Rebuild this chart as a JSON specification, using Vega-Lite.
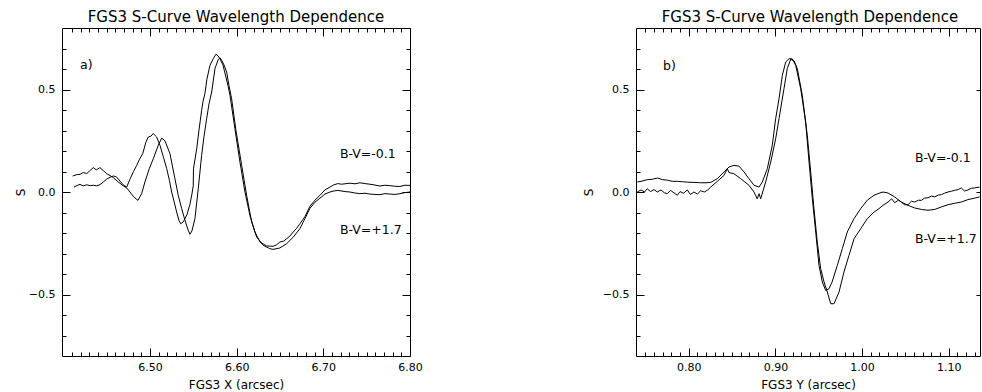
{
  "$schema": "https://vega.github.io/schema/vega-lite/v6.json",
  "padding": {"left": 14, "top": 9, "right": 0, "bottom": 0},
  "background": "white",
  "spacing": 159,
  "config": {
    "view": {"stroke": null},
    "axis": {"domainColor": "black", "tickColor": "black", "labelColor": "black", "titleColor": "black", "labelFont": "DejaVu Sans", "titleFont": "DejaVu Sans", "titleFontWeight": "normal", "labelFontSize": 11, "titleFontSize": 12, "grid": false, "tickWidth": 1, "domainWidth": 1, "labelOverlap": false, "labelFlush": false},
    "title": {"font": "DejaVu Sans", "fontSize": 15, "fontWeight": "normal", "color": "black", "anchor": "middle", "offset": 3}
  },
  "datasets": {
    "leftCurves": [
      {"x":6.4123,"s":0.024,"c":"bv1"},{"x":6.4160,"s":0.032,"c":"bv1"},{"x":6.4193,"s":0.037,"c":"bv1"},{"x":6.4230,"s":0.030,"c":"bv1"},{"x":6.4270,"s":0.035,"c":"bv1"},{"x":6.4310,"s":0.031,"c":"bv1"},{"x":6.4346,"s":0.033,"c":"bv1"},{"x":6.4385,"s":0.030,"c":"bv1"},{"x":6.4423,"s":0.036,"c":"bv1"},{"x":6.4460,"s":0.048,"c":"bv1"},{"x":6.4501,"s":0.063,"c":"bv1"},{"x":6.4540,"s":0.072,"c":"bv1"},{"x":6.4577,"s":0.078,"c":"bv1"},{"x":6.4610,"s":0.074,"c":"bv1"},{"x":6.4631,"s":0.066,"c":"bv1"},{"x":6.4660,"s":0.050,"c":"bv1"},{"x":6.4692,"s":0.035,"c":"bv1"},{"x":6.4731,"s":0.024,"c":"bv1"},{"x":6.4769,"s":0.062,"c":"bv1"},{"x":6.4810,"s":0.100,"c":"bv1"},{"x":6.4847,"s":0.130,"c":"bv1"},{"x":6.4880,"s":0.160,"c":"bv1"},{"x":6.4916,"s":0.187,"c":"bv1"},{"x":6.4954,"s":0.244,"c":"bv1"},{"x":6.4980,"s":0.268,"c":"bv1"},{"x":6.5010,"s":0.272,"c":"bv1"},{"x":6.5038,"s":0.285,"c":"bv1"},{"x":6.5060,"s":0.275,"c":"bv1"},{"x":6.5077,"s":0.268,"c":"bv1"},{"x":6.5115,"s":0.228,"c":"bv1"},{"x":6.5155,"s":0.170,"c":"bv1"},{"x":6.5193,"s":0.114,"c":"bv1"},{"x":6.5225,"s":0.055,"c":"bv1"},{"x":6.5250,"s":0.000,"c":"bv1"},{"x":6.5280,"s":-0.050,"c":"bv1"},{"x":6.5308,"s":-0.098,"c":"bv1"},{"x":6.5335,"s":-0.140,"c":"bv1"},{"x":6.5354,"s":-0.155,"c":"bv1"},{"x":6.5384,"s":-0.146,"c":"bv1"},{"x":6.5427,"s":-0.110,"c":"bv1"},{"x":6.5461,"s":-0.060,"c":"bv1"},{"x":6.5484,"s":-0.010,"c":"bv1"},{"x":6.5499,"s":0.030,"c":"bv1"},{"x":6.5502,"s":0.114,"c":"bv1"},{"x":6.5539,"s":0.211,"c":"bv1"},{"x":6.5565,"s":0.300,"c":"bv1"},{"x":6.5596,"s":0.398,"c":"bv1"},{"x":6.5611,"s":0.440,"c":"bv1"},{"x":6.5634,"s":0.480,"c":"bv1"},{"x":6.5657,"s":0.550,"c":"bv1"},{"x":6.5692,"s":0.618,"c":"bv1"},{"x":6.5730,"s":0.650,"c":"bv1"},{"x":6.5761,"s":0.672,"c":"bv1"},{"x":6.5784,"s":0.665,"c":"bv1"},{"x":6.5807,"s":0.650,"c":"bv1"},{"x":6.5842,"s":0.620,"c":"bv1"},{"x":6.5865,"s":0.580,"c":"bv1"},{"x":6.5900,"s":0.520,"c":"bv1"},{"x":6.5923,"s":0.472,"c":"bv1"},{"x":6.5980,"s":0.309,"c":"bv1"},{"x":6.6038,"s":0.146,"c":"bv1"},{"x":6.6096,"s":0.000,"c":"bv1"},{"x":6.6153,"s":-0.114,"c":"bv1"},{"x":6.6211,"s":-0.195,"c":"bv1"},{"x":6.6269,"s":-0.244,"c":"bv1"},{"x":6.6346,"s":-0.263,"c":"bv1"},{"x":6.6419,"s":-0.265,"c":"bv1"},{"x":6.6460,"s":-0.258,"c":"bv1"},{"x":6.6499,"s":-0.244,"c":"bv1"},{"x":6.6540,"s":-0.240,"c":"bv1"},{"x":6.6577,"s":-0.228,"c":"bv1"},{"x":6.6615,"s":-0.215,"c":"bv1"},{"x":6.6653,"s":-0.195,"c":"bv1"},{"x":6.6690,"s":-0.178,"c":"bv1"},{"x":6.6730,"s":-0.155,"c":"bv1"},{"x":6.6788,"s":-0.120,"c":"bv1"},{"x":6.6845,"s":-0.070,"c":"bv1"},{"x":6.6903,"s":-0.040,"c":"bv1"},{"x":6.6961,"s":-0.016,"c":"bv1"},{"x":6.7018,"s":0.010,"c":"bv1"},{"x":6.7076,"s":0.024,"c":"bv1"},{"x":6.7122,"s":0.035,"c":"bv1"},{"x":6.7168,"s":0.041,"c":"bv1"},{"x":6.7210,"s":0.038,"c":"bv1"},{"x":6.7249,"s":0.040,"c":"bv1"},{"x":6.7307,"s":0.043,"c":"bv1"},{"x":6.7365,"s":0.040,"c":"bv1"},{"x":6.7422,"s":0.045,"c":"bv1"},{"x":6.7480,"s":0.041,"c":"bv1"},{"x":6.7537,"s":0.038,"c":"bv1"},{"x":6.7595,"s":0.034,"c":"bv1"},{"x":6.7653,"s":0.029,"c":"bv1"},{"x":6.7710,"s":0.033,"c":"bv1"},{"x":6.7768,"s":0.031,"c":"bv1"},{"x":6.7826,"s":0.028,"c":"bv1"},{"x":6.7884,"s":0.027,"c":"bv1"},{"x":6.7942,"s":0.033,"c":"bv1"},{"x":6.8000,"s":0.032,"c":"bv1"},
      {"x":6.4108,"s":0.078,"c":"bv2"},{"x":6.4160,"s":0.085,"c":"bv2"},{"x":6.4193,"s":0.086,"c":"bv2"},{"x":6.4230,"s":0.095,"c":"bv2"},{"x":6.4270,"s":0.090,"c":"bv2"},{"x":6.4310,"s":0.105,"c":"bv2"},{"x":6.4346,"s":0.119,"c":"bv2"},{"x":6.4380,"s":0.108,"c":"bv2"},{"x":6.4423,"s":0.119,"c":"bv2"},{"x":6.4460,"s":0.105,"c":"bv2"},{"x":6.4501,"s":0.089,"c":"bv2"},{"x":6.4540,"s":0.080,"c":"bv2"},{"x":6.4577,"s":0.070,"c":"bv2"},{"x":6.4631,"s":0.050,"c":"bv2"},{"x":6.4692,"s":0.030,"c":"bv2"},{"x":6.4731,"s":0.020,"c":"bv2"},{"x":6.4769,"s":0.000,"c":"bv2"},{"x":6.4815,"s":-0.025,"c":"bv2"},{"x":6.4862,"s":-0.041,"c":"bv2"},{"x":6.4904,"s":-0.008,"c":"bv2"},{"x":6.4942,"s":0.049,"c":"bv2"},{"x":6.4992,"s":0.114,"c":"bv2"},{"x":6.5038,"s":0.162,"c":"bv2"},{"x":6.5096,"s":0.228,"c":"bv2"},{"x":6.5135,"s":0.263,"c":"bv2"},{"x":6.5173,"s":0.250,"c":"bv2"},{"x":6.5231,"s":0.187,"c":"bv2"},{"x":6.5288,"s":0.065,"c":"bv2"},{"x":6.5326,"s":-0.016,"c":"bv2"},{"x":6.5365,"s":-0.080,"c":"bv2"},{"x":6.5405,"s":-0.140,"c":"bv2"},{"x":6.5440,"s":-0.185,"c":"bv2"},{"x":6.5461,"s":-0.206,"c":"bv2"},{"x":6.5484,"s":-0.190,"c":"bv2"},{"x":6.5519,"s":-0.130,"c":"bv2"},{"x":6.5557,"s":0.016,"c":"bv2"},{"x":6.5596,"s":0.179,"c":"bv2"},{"x":6.5623,"s":0.270,"c":"bv2"},{"x":6.5654,"s":0.358,"c":"bv2"},{"x":6.5681,"s":0.430,"c":"bv2"},{"x":6.5712,"s":0.488,"c":"bv2"},{"x":6.5750,"s":0.602,"c":"bv2"},{"x":6.5788,"s":0.647,"c":"bv2"},{"x":6.5807,"s":0.655,"c":"bv2"},{"x":6.5827,"s":0.642,"c":"bv2"},{"x":6.5854,"s":0.620,"c":"bv2"},{"x":6.5885,"s":0.585,"c":"bv2"},{"x":6.5911,"s":0.520,"c":"bv2"},{"x":6.5942,"s":0.455,"c":"bv2"},{"x":6.5992,"s":0.300,"c":"bv2"},{"x":6.6058,"s":0.130,"c":"bv2"},{"x":6.6115,"s":-0.016,"c":"bv2"},{"x":6.6173,"s":-0.146,"c":"bv2"},{"x":6.6231,"s":-0.220,"c":"bv2"},{"x":6.6307,"s":-0.260,"c":"bv2"},{"x":6.6380,"s":-0.276,"c":"bv2"},{"x":6.6419,"s":-0.280,"c":"bv2"},{"x":6.6499,"s":-0.273,"c":"bv2"},{"x":6.6577,"s":-0.252,"c":"bv2"},{"x":6.6653,"s":-0.220,"c":"bv2"},{"x":6.6730,"s":-0.179,"c":"bv2"},{"x":6.6788,"s":-0.130,"c":"bv2"},{"x":6.6845,"s":-0.080,"c":"bv2"},{"x":6.6903,"s":-0.050,"c":"bv2"},{"x":6.6961,"s":-0.030,"c":"bv2"},{"x":6.7018,"s":-0.010,"c":"bv2"},{"x":6.7076,"s":0.000,"c":"bv2"},{"x":6.7122,"s":0.005,"c":"bv2"},{"x":6.7168,"s":0.008,"c":"bv2"},{"x":6.7249,"s":0.002,"c":"bv2"},{"x":6.7307,"s":0.000,"c":"bv2"},{"x":6.7365,"s":-0.005,"c":"bv2"},{"x":6.7422,"s":-0.008,"c":"bv2"},{"x":6.7480,"s":-0.006,"c":"bv2"},{"x":6.7537,"s":-0.010,"c":"bv2"},{"x":6.7595,"s":-0.012,"c":"bv2"},{"x":6.7653,"s":-0.013,"c":"bv2"},{"x":6.7710,"s":-0.008,"c":"bv2"},{"x":6.7768,"s":-0.010,"c":"bv2"},{"x":6.7826,"s":-0.012,"c":"bv2"},{"x":6.7884,"s":-0.008,"c":"bv2"},{"x":6.7942,"s":-0.003,"c":"bv2"},{"x":6.8000,"s":0.000,"c":"bv2"}
    ],
    "leftNotes": [
      {"x":6.4193,"s":0.62,"t":"a)"},
      {"x":6.7191,"s":0.185,"t":"B-V=-0.1"},
      {"x":6.7191,"s":-0.185,"t":"B-V=+1.7"}
    ],
    "rightCurves": [
      {"x":0.7407,"s":0.049,"c":"bv1"},{"x":0.7450,"s":0.052,"c":"bv1"},{"x":0.7522,"s":0.060,"c":"bv1"},{"x":0.7580,"s":0.062,"c":"bv1"},{"x":0.7638,"s":0.068,"c":"bv1"},{"x":0.7700,"s":0.060,"c":"bv1"},{"x":0.7753,"s":0.058,"c":"bv1"},{"x":0.7810,"s":0.052,"c":"bv1"},{"x":0.7869,"s":0.052,"c":"bv1"},{"x":0.7930,"s":0.050,"c":"bv1"},{"x":0.7984,"s":0.048,"c":"bv1"},{"x":0.8060,"s":0.047,"c":"bv1"},{"x":0.8138,"s":0.045,"c":"bv1"},{"x":0.8200,"s":0.045,"c":"bv1"},{"x":0.8254,"s":0.047,"c":"bv1"},{"x":0.8330,"s":0.065,"c":"bv1"},{"x":0.8407,"s":0.098,"c":"bv1"},{"x":0.8465,"s":0.122,"c":"bv1"},{"x":0.8522,"s":0.130,"c":"bv1"},{"x":0.8580,"s":0.126,"c":"bv1"},{"x":0.8638,"s":0.098,"c":"bv1"},{"x":0.8695,"s":0.065,"c":"bv1"},{"x":0.8753,"s":0.033,"c":"bv1"},{"x":0.8811,"s":0.024,"c":"bv1"},{"x":0.8849,"s":0.049,"c":"bv1"},{"x":0.8907,"s":0.114,"c":"bv1"},{"x":0.8964,"s":0.228,"c":"bv1"},{"x":0.9003,"s":0.358,"c":"bv1"},{"x":0.9042,"s":0.455,"c":"bv1"},{"x":0.9080,"s":0.569,"c":"bv1"},{"x":0.9119,"s":0.634,"c":"bv1"},{"x":0.9157,"s":0.650,"c":"bv1"},{"x":0.9195,"s":0.650,"c":"bv1"},{"x":0.9234,"s":0.618,"c":"bv1"},{"x":0.9292,"s":0.504,"c":"bv1"},{"x":0.9349,"s":0.341,"c":"bv1"},{"x":0.9388,"s":0.146,"c":"bv1"},{"x":0.9426,"s":-0.033,"c":"bv1"},{"x":0.9465,"s":-0.195,"c":"bv1"},{"x":0.9503,"s":-0.358,"c":"bv1"},{"x":0.9541,"s":-0.439,"c":"bv1"},{"x":0.9580,"s":-0.480,"c":"bv1"},{"x":0.9618,"s":-0.472,"c":"bv1"},{"x":0.9653,"s":-0.440,"c":"bv1"},{"x":0.9714,"s":-0.358,"c":"bv1"},{"x":0.9772,"s":-0.276,"c":"bv1"},{"x":0.9829,"s":-0.195,"c":"bv1"},{"x":0.9907,"s":-0.130,"c":"bv1"},{"x":0.9984,"s":-0.081,"c":"bv1"},{"x":1.0060,"s":-0.040,"c":"bv1"},{"x":1.0137,"s":-0.016,"c":"bv1"},{"x":1.0195,"s":-0.006,"c":"bv1"},{"x":1.0241,"s":0.000,"c":"bv1"},{"x":1.0299,"s":-0.005,"c":"bv1"},{"x":1.0376,"s":-0.024,"c":"bv1"},{"x":1.0452,"s":-0.049,"c":"bv1"},{"x":1.0529,"s":-0.065,"c":"bv1"},{"x":1.0607,"s":-0.078,"c":"bv1"},{"x":1.0683,"s":-0.085,"c":"bv1"},{"x":1.0760,"s":-0.089,"c":"bv1"},{"x":1.0837,"s":-0.085,"c":"bv1"},{"x":1.0914,"s":-0.073,"c":"bv1"},{"x":1.0991,"s":-0.062,"c":"bv1"},{"x":1.1068,"s":-0.055,"c":"bv1"},{"x":1.1144,"s":-0.049,"c":"bv1"},{"x":1.1221,"s":-0.037,"c":"bv1"},{"x":1.1299,"s":-0.030,"c":"bv1"},{"x":1.1356,"s":-0.024,"c":"bv1"},
      {"x":0.7407,"s":0.000,"c":"bv2"},{"x":0.7450,"s":0.010,"c":"bv2"},{"x":0.7490,"s":0.000,"c":"bv2"},{"x":0.7522,"s":0.016,"c":"bv2"},{"x":0.7560,"s":0.002,"c":"bv2"},{"x":0.7600,"s":0.012,"c":"bv2"},{"x":0.7638,"s":0.000,"c":"bv2"},{"x":0.7680,"s":0.010,"c":"bv2"},{"x":0.7720,"s":-0.004,"c":"bv2"},{"x":0.7753,"s":-0.008,"c":"bv2"},{"x":0.7790,"s":0.008,"c":"bv2"},{"x":0.7830,"s":-0.004,"c":"bv2"},{"x":0.7869,"s":-0.016,"c":"bv2"},{"x":0.7900,"s":0.002,"c":"bv2"},{"x":0.7940,"s":-0.006,"c":"bv2"},{"x":0.7984,"s":0.010,"c":"bv2"},{"x":0.8020,"s":-0.012,"c":"bv2"},{"x":0.8060,"s":0.000,"c":"bv2"},{"x":0.8100,"s":-0.010,"c":"bv2"},{"x":0.8138,"s":0.006,"c":"bv2"},{"x":0.8180,"s":0.000,"c":"bv2"},{"x":0.8220,"s":0.010,"c":"bv2"},{"x":0.8254,"s":0.024,"c":"bv2"},{"x":0.8330,"s":0.052,"c":"bv2"},{"x":0.8407,"s":0.081,"c":"bv2"},{"x":0.8445,"s":0.114,"c":"bv2"},{"x":0.8465,"s":0.095,"c":"bv2"},{"x":0.8522,"s":0.089,"c":"bv2"},{"x":0.8600,"s":0.065,"c":"bv2"},{"x":0.8695,"s":0.033,"c":"bv2"},{"x":0.8753,"s":0.000,"c":"bv2"},{"x":0.8790,"s":-0.033,"c":"bv2"},{"x":0.8811,"s":-0.008,"c":"bv2"},{"x":0.8830,"s":-0.033,"c":"bv2"},{"x":0.8888,"s":0.049,"c":"bv2"},{"x":0.8946,"s":0.146,"c":"bv2"},{"x":0.9003,"s":0.260,"c":"bv2"},{"x":0.9042,"s":0.358,"c":"bv2"},{"x":0.9099,"s":0.504,"c":"bv2"},{"x":0.9137,"s":0.602,"c":"bv2"},{"x":0.9176,"s":0.647,"c":"bv2"},{"x":0.9215,"s":0.640,"c":"bv2"},{"x":0.9253,"s":0.602,"c":"bv2"},{"x":0.9310,"s":0.472,"c":"bv2"},{"x":0.9368,"s":0.276,"c":"bv2"},{"x":0.9407,"s":0.098,"c":"bv2"},{"x":0.9445,"s":-0.081,"c":"bv2"},{"x":0.9483,"s":-0.244,"c":"bv2"},{"x":0.9522,"s":-0.374,"c":"bv2"},{"x":0.9561,"s":-0.439,"c":"bv2"},{"x":0.9599,"s":-0.488,"c":"bv2"},{"x":0.9638,"s":-0.545,"c":"bv2"},{"x":0.9676,"s":-0.545,"c":"bv2"},{"x":0.9734,"s":-0.488,"c":"bv2"},{"x":0.9791,"s":-0.390,"c":"bv2"},{"x":0.9849,"s":-0.309,"c":"bv2"},{"x":0.9907,"s":-0.228,"c":"bv2"},{"x":0.9984,"s":-0.179,"c":"bv2"},{"x":1.0060,"s":-0.130,"c":"bv2"},{"x":1.0137,"s":-0.098,"c":"bv2"},{"x":1.0195,"s":-0.081,"c":"bv2"},{"x":1.0241,"s":-0.065,"c":"bv2"},{"x":1.0299,"s":-0.049,"c":"bv2"},{"x":1.0340,"s":-0.033,"c":"bv2"},{"x":1.0376,"s":-0.052,"c":"bv2"},{"x":1.0420,"s":-0.040,"c":"bv2"},{"x":1.0452,"s":-0.049,"c":"bv2"},{"x":1.0490,"s":-0.062,"c":"bv2"},{"x":1.0529,"s":-0.062,"c":"bv2"},{"x":1.0570,"s":-0.045,"c":"bv2"},{"x":1.0607,"s":-0.049,"c":"bv2"},{"x":1.0650,"s":-0.040,"c":"bv2"},{"x":1.0683,"s":-0.041,"c":"bv2"},{"x":1.0720,"s":-0.030,"c":"bv2"},{"x":1.0760,"s":-0.028,"c":"bv2"},{"x":1.0800,"s":-0.020,"c":"bv2"},{"x":1.0837,"s":-0.024,"c":"bv2"},{"x":1.0880,"s":-0.015,"c":"bv2"},{"x":1.0914,"s":-0.013,"c":"bv2"},{"x":1.0950,"s":-0.006,"c":"bv2"},{"x":1.0991,"s":0.000,"c":"bv2"},{"x":1.1030,"s":0.004,"c":"bv2"},{"x":1.1068,"s":0.008,"c":"bv2"},{"x":1.1110,"s":0.012,"c":"bv2"},{"x":1.1144,"s":0.020,"c":"bv2"},{"x":1.1180,"s":0.005,"c":"bv2"},{"x":1.1221,"s":0.010,"c":"bv2"},{"x":1.1260,"s":0.018,"c":"bv2"},{"x":1.1299,"s":0.020,"c":"bv2"},{"x":1.1356,"s":0.024,"c":"bv2"}
    ],
    "rightNotes": [
      {"x":0.7704,"s":0.615,"t":"b)"},
      {"x":1.0610,"s":0.166,"t":"B-V=-0.1"},
      {"x":1.0610,"s":-0.229,"t":"B-V=+1.7"}
    ]
  },
  "hconcat": [
    {
      "width": 348,
      "height": 328,
      "title": {"text": "FGS3 S-Curve Wavelength Dependence"},
      "resolve": {"axis": {"x": "independent", "y": "independent"}},
      "layer": [
        {
          "data": {"name": "leftCurves"},
          "mark": {"type": "line", "color": "black", "strokeWidth": 1, "clip": true},
          "encoding": {
            "x": {"field": "x", "type": "quantitative", "scale": {"domain": [6.3985, 6.8], "nice": false, "zero": false},
              "axis": {"orient": "bottom", "title": "FGS3 X (arcsec)", "titlePadding": 3,
                "values": [6.41,6.42,6.43,6.44,6.45,6.46,6.47,6.48,6.49,6.5,6.51,6.52,6.53,6.54,6.55,6.56,6.57,6.58,6.59,6.6,6.61,6.62,6.63,6.64,6.65,6.66,6.67,6.68,6.69,6.7,6.71,6.72,6.73,6.74,6.75,6.76,6.77,6.78,6.79,6.8],
                "labelExpr": "abs(datum.value*10 - round(datum.value*10)) < 0.001 ? format(datum.value, '.2f') : ''",
                "tickSize": {"condition": {"test": "abs(datum.value*10 - round(datum.value*10)) < 0.001", "value": -8}, "value": -4},
                "labelPadding": 13}},
            "y": {"field": "s", "type": "quantitative", "scale": {"domain": [-0.8, 0.8], "nice": false},
              "axis": {"orient": "left", "title": "S", "titlePadding": 1,
                "values": [-0.7,-0.6,-0.5,-0.4,-0.3,-0.2,-0.1,0,0.1,0.2,0.3,0.4,0.5,0.6,0.7],
                "labelExpr": "abs(datum.value*2 - round(datum.value*2)) < 0.001 ? format(datum.value, '.1f') : ''",
                "tickSize": {"condition": {"test": "abs(datum.value*2 - round(datum.value*2)) < 0.001", "value": -8}, "value": -4},
                "labelPadding": 15}},
            "detail": {"field": "c"}
          }
        },
        {
          "data": {"name": "leftNotes"},
          "mark": {"type": "text", "align": "left", "baseline": "middle", "font": "DejaVu Sans", "fontSize": 12.5, "color": "black"},
          "encoding": {
            "x": {"field": "x", "type": "quantitative", "scale": {"domain": [6.3985, 6.8], "nice": false, "zero": false},
              "axis": {"orient": "top", "title": null, "labels": false,
                "values": [6.41,6.42,6.43,6.44,6.45,6.46,6.47,6.48,6.49,6.5,6.51,6.52,6.53,6.54,6.55,6.56,6.57,6.58,6.59,6.6,6.61,6.62,6.63,6.64,6.65,6.66,6.67,6.68,6.69,6.7,6.71,6.72,6.73,6.74,6.75,6.76,6.77,6.78,6.79,6.8],
                "tickSize": {"condition": {"test": "abs(datum.value*10 - round(datum.value*10)) < 0.001", "value": -8}, "value": -4}}},
            "y": {"field": "s", "type": "quantitative", "scale": {"domain": [-0.8, 0.8], "nice": false},
              "axis": {"orient": "right", "title": null, "labels": false,
                "values": [-0.7,-0.6,-0.5,-0.4,-0.3,-0.2,-0.1,0,0.1,0.2,0.3,0.4,0.5,0.6,0.7],
                "tickSize": {"condition": {"test": "abs(datum.value*2 - round(datum.value*2)) < 0.001", "value": -8}, "value": -4}}},
            "text": {"field": "t"}
          }
        }
      ]
    },
    {
      "width": 344,
      "height": 328,
      "title": {"text": "FGS3 S-Curve Wavelength Dependence", "dx": 2},
      "resolve": {"axis": {"x": "independent", "y": "independent"}},
      "layer": [
        {
          "data": {"name": "rightCurves"},
          "mark": {"type": "line", "color": "black", "strokeWidth": 1, "clip": true},
          "encoding": {
            "x": {"field": "x", "type": "quantitative", "scale": {"domain": [0.7392, 1.136], "nice": false, "zero": false},
              "axis": {"orient": "bottom", "title": "FGS3 Y (arcsec)", "titlePadding": 3,
                "values": [0.75,0.76,0.77,0.78,0.79,0.8,0.81,0.82,0.83,0.84,0.85,0.86,0.87,0.88,0.89,0.9,0.91,0.92,0.93,0.94,0.95,0.96,0.97,0.98,0.99,1.0,1.01,1.02,1.03,1.04,1.05,1.06,1.07,1.08,1.09,1.1,1.11,1.12,1.13],
                "labelExpr": "abs(datum.value*10 - round(datum.value*10)) < 0.001 ? format(datum.value, '.2f') : ''",
                "tickSize": {"condition": {"test": "abs(datum.value*10 - round(datum.value*10)) < 0.001", "value": -8}, "value": -4},
                "labelPadding": 13}},
            "y": {"field": "s", "type": "quantitative", "scale": {"domain": [-0.8, 0.8], "nice": false},
              "axis": {"orient": "left", "title": "S", "titlePadding": 7,
                "values": [-0.7,-0.6,-0.5,-0.4,-0.3,-0.2,-0.1,0,0.1,0.2,0.3,0.4,0.5,0.6,0.7],
                "labelExpr": "abs(datum.value*2 - round(datum.value*2)) < 0.001 ? format(datum.value, '.1f') : ''",
                "tickSize": {"condition": {"test": "abs(datum.value*2 - round(datum.value*2)) < 0.001", "value": -8}, "value": -4},
                "labelPadding": 15}},
            "detail": {"field": "c"}
          }
        },
        {
          "data": {"name": "rightNotes"},
          "mark": {"type": "text", "align": "left", "baseline": "middle", "font": "DejaVu Sans", "fontSize": 12.5, "color": "black"},
          "encoding": {
            "x": {"field": "x", "type": "quantitative", "scale": {"domain": [0.7392, 1.136], "nice": false, "zero": false},
              "axis": {"orient": "top", "title": null, "labels": false,
                "values": [0.75,0.76,0.77,0.78,0.79,0.8,0.81,0.82,0.83,0.84,0.85,0.86,0.87,0.88,0.89,0.9,0.91,0.92,0.93,0.94,0.95,0.96,0.97,0.98,0.99,1.0,1.01,1.02,1.03,1.04,1.05,1.06,1.07,1.08,1.09,1.1,1.11,1.12,1.13],
                "tickSize": {"condition": {"test": "abs(datum.value*10 - round(datum.value*10)) < 0.001", "value": -8}, "value": -4}}},
            "y": {"field": "s", "type": "quantitative", "scale": {"domain": [-0.8, 0.8], "nice": false},
              "axis": {"orient": "right", "title": null, "labels": false,
                "values": [-0.5,0,0.5],
                "tickSize": -4}},
            "text": {"field": "t"}
          }
        }
      ]
    }
  ]
}
